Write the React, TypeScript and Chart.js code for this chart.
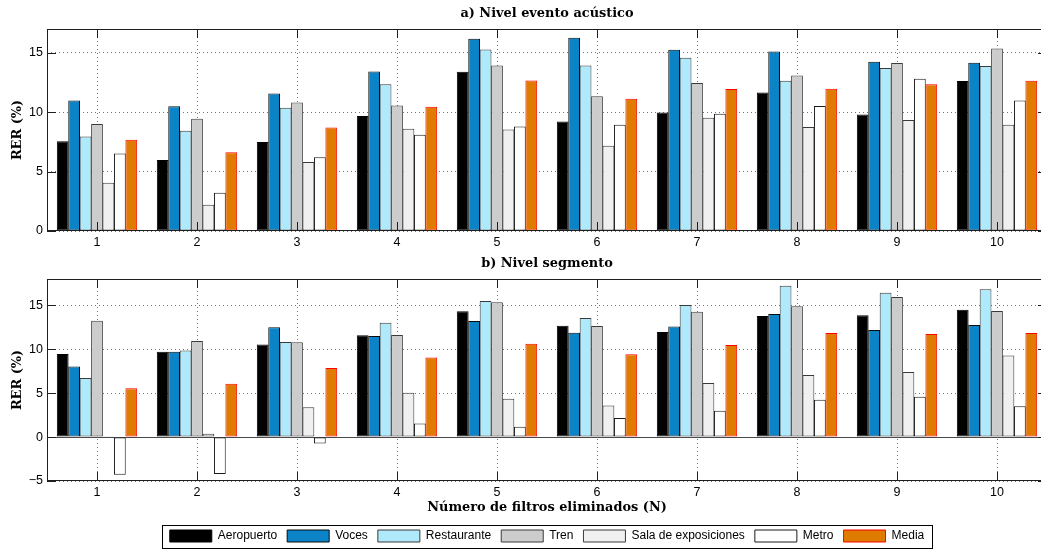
import { useEffect, useRef } from 'react';
import { Chart, registerables } from 'chart.js';

Chart.register(...registerables);

// ---------- data ----------
const categories = ['1', '2', '3', '4', '5', '6', '7', '8', '9', '10'];
const seriesNames = ['Aeropuerto', 'Voces', 'Restaurante', 'Tren', 'Sala de exposiciones', 'Metro', 'Media'];

// a) Nivel evento acústico
const eventoAeropuerto = [7.55, 5.97, 7.49, 9.67, 13.4, 9.22, 9.98, 11.66, 9.81, 12.62];
const eventoVoces = [10.99, 10.49, 11.58, 13.43, 16.18, 16.26, 15.25, 15.11, 14.24, 14.16];
const eventoRestaurante = [7.96, 8.44, 10.37, 12.36, 15.28, 13.93, 14.58, 12.64, 13.71, 13.88];
const eventoTren = [9.0, 9.45, 10.82, 10.57, 13.93, 11.35, 12.45, 13.09, 14.13, 15.36];
const eventoSala = [4.07, 2.21, 5.8, 8.6, 8.55, 7.18, 9.53, 8.75, 9.34, 8.94];
const eventoMetro = [6.53, 3.22, 6.2, 8.1, 8.8, 8.94, 9.87, 10.51, 12.81, 10.99];
const eventoMedia = [7.68, 6.62, 8.72, 10.46, 12.67, 11.13, 11.94, 11.97, 12.34, 12.64];

// b) Nivel segmento
const segmentoAeropuerto = [9.47, 9.73, 10.53, 11.59, 14.32, 12.69, 11.97, 13.79, 13.86, 14.5];
const segmentoVoces = [8.03, 9.73, 12.5, 11.52, 13.22, 11.89, 12.58, 14.02, 12.2, 12.77];
const segmentoRestaurante = [6.74, 9.85, 10.83, 13.03, 15.49, 13.56, 15.04, 17.23, 16.44, 16.82];
const segmentoTren = [13.26, 10.95, 10.8, 11.63, 15.34, 12.65, 14.28, 14.89, 15.95, 14.36];
const segmentoSala = [0.1, 0.38, 3.41, 5.04, 4.36, 3.6, 6.17, 7.08, 7.42, 9.28];
const segmentoMetro = [-4.28, -4.2, -0.72, 1.55, 1.17, 2.16, 2.99, 4.24, 4.58, 3.52];
const segmentoMedia = [5.57, 6.06, 7.88, 9.05, 10.64, 9.43, 10.49, 11.86, 11.74, 11.86];

const eventoTicks = [0, 5, 10, 15];
const segmentoTicks = [-5, 0, 5, 10, 15];
const eventoRange = [0, 17];
const segmentoRange = [-5, 18];

const titleEvento = 'a) Nivel evento acústico';
const titleSegmento = 'b) Nivel segmento';
const yTitle = 'RER (%)';
const xTitle = 'Número de filtros eliminados (N)';

// ---------- styles ----------
const fills = ['#000000', '#0b84c7', '#aeeafc', '#cccccc', '#f0f0f0', '#ffffff', '#df7b00'];
const edges = ['#000000', '#0a0a0a', '#3a3a3a', '#3a3a3a', '#3a3a3a', '#1a1a1a', '#ff0000'];

const SANS = "'Liberation Sans', Arial, Helvetica, sans-serif";
const SERIF = "'DejaVu Serif', serif";
const TITLE_SIZE = 12.9;
const CANVAS_W = 1060;
const PLOT_LEFT = 47;
const PLOT_RIGHT = 1047;
const TICK_LEN = 9;

const framePlugin = {
  id: 'matlabFrame',
  beforeDatasetsDraw(chart: any) {
    const { ctx, chartArea } = chart;
    const y = chart.scales.y;
    if (y.min < 0) {
      const py = Math.round(y.getPixelForValue(0)) + 0.5;
      ctx.save();
      ctx.strokeStyle = '#4a4a4a';
      ctx.lineWidth = 1;
      ctx.beginPath();
      ctx.moveTo(chartArea.left, py);
      ctx.lineTo(chartArea.right, py);
      ctx.stroke();
      ctx.restore();
    }
  },
  afterDatasetsDraw(chart: any) {
    const { ctx, chartArea } = chart;
    const { left, right, top, bottom } = chartArea;
    const x = chart.scales.x;
    const y = chart.scales.y;
    ctx.save();
    ctx.strokeStyle = '#1e1e1e';
    ctx.lineWidth = 1;
    ctx.strokeRect(left + 0.5, top + 0.5, right - left - 1, bottom - top - 1);
    ctx.beginPath();
    y.ticks.forEach((t: any) => {
      const py = Math.round(y.getPixelForValue(t.value)) + 0.5;
      ctx.moveTo(left, py);
      ctx.lineTo(left + TICK_LEN, py);
      ctx.moveTo(right, py);
      ctx.lineTo(right - TICK_LEN, py);
    });
    categories.forEach((_, i) => {
      const px = Math.round(x.getPixelForValue(i)) + 0.5;
      ctx.moveTo(px, bottom);
      ctx.lineTo(px, bottom - TICK_LEN);
      ctx.moveTo(px, top);
      ctx.lineTo(px, top + TICK_LEN);
    });
    ctx.stroke();
    ctx.restore();
  },
  afterDraw(chart: any) {
    const legend = chart.legend;
    if (!legend || !legend.options.display || !legend.legendHitBoxes?.length) return;
    const boxes = legend.legendHitBoxes;
    let minL = Infinity;
    let maxR = -Infinity;
    boxes.forEach((b: any) => {
      minL = Math.min(minL, b.left);
      maxR = Math.max(maxR, b.left + b.width);
    });
    const top = boxes[0].top;
    const ctx = chart.ctx;
    ctx.save();
    ctx.strokeStyle = '#000000';
    ctx.lineWidth = 1;
    ctx.strokeRect(Math.round(minL - 8) + 0.5, Math.round(top - 5) + 0.5, Math.round(maxR - minL + 16), 23);
    ctx.restore();
  },
};

function buildConfig(kind: 'evento' | 'segmento', height: number): any {
  const isEv = kind === 'evento';
  const series = isEv
    ? [eventoAeropuerto, eventoVoces, eventoRestaurante, eventoTren, eventoSala, eventoMetro, eventoMedia]
    : [segmentoAeropuerto, segmentoVoces, segmentoRestaurante, segmentoTren, segmentoSala, segmentoMetro, segmentoMedia];
  const tickVals = isEv ? eventoTicks : segmentoTicks;
  const range = isEv ? eventoRange : segmentoRange;
  const lh = TITLE_SIZE * 1.2;
  const titleTop = (isEv ? 13.5 : 8.5) - lh / 2;
  const titleBottom = (isEv ? 29 : 24) - lh - titleTop;
  const xHeight = isEv ? 24 : 39;
  return {
    type: 'bar',
    data: {
      labels: categories,
      datasets: series.map((vals, i) => ({
        label: seriesNames[i],
        data: vals,
        backgroundColor: fills[i],
        borderColor: edges[i],
        borderWidth: 1,
        borderSkipped: false,
        categoryPercentage: 0.8,
        barPercentage: 1.03,
      })),
    },
    options: {
      responsive: false,
      animation: false,
      devicePixelRatio: 1,
      layout: { padding: { left: 0, right: CANVAS_W - PLOT_RIGHT, top: 0, bottom: isEv ? 0 : height - 297 } },
      plugins: {
        tooltip: { enabled: false },
        title: {
          display: true,
          text: isEv ? titleEvento : titleSegmento,
          fullSize: false,
          color: '#000000',
          font: { family: SERIF, size: TITLE_SIZE, weight: 'bold', lineHeight: 1.2 },
          padding: { top: titleTop, bottom: titleBottom },
        },
        legend: {
          display: !isEv,
          position: 'bottom',
          fullSize: false,
          labels: {
            color: '#000000',
            font: { family: SANS, size: 12 },
            boxWidth: 42,
            boxHeight: 12,
            padding: 10,
          },
        },
      },
      scales: {
        x: {
          type: 'category',
          offset: true,
          grid: {
            offset: false,
            drawTicks: false,
            color: 'rgba(0,0,0,0.55)',
            lineWidth: 1,
          },
          border: { display: false, dash: [1, 3] },
          ticks: { color: '#000000', font: { family: SANS, size: 12.5 }, padding: 4, maxRotation: 0, autoSkip: false },
          title: {
            display: !isEv,
            text: xTitle,
            color: '#000000',
            font: { family: SERIF, size: TITLE_SIZE, weight: 'bold', lineHeight: 1.2 },
            padding: { top: 0, bottom: 265 - 226 - 253 + 226 - lh / 2 - 0 },
          },
          afterFit: (s: any) => {
            s.height = xHeight;
          },
        },
        y: {
          min: range[0],
          max: range[1],
          grid: { drawTicks: false, color: 'rgba(0,0,0,0.55)', lineWidth: 1 },
          border: { display: false, dash: [1, 3] },
          ticks: {
            color: '#000000',
            font: { family: SANS, size: 12.5 },
            padding: 4,
            callback: (v: any) => (Number(v) < 0 ? '\u2212' + String(Math.abs(Number(v))) : String(v)),
          },
          afterBuildTicks: (s: any) => {
            s.ticks = tickVals.map((v) => ({ value: v }));
          },
          title: {
            display: true,
            text: yTitle,
            color: '#000000',
            font: { family: SERIF, size: TITLE_SIZE, weight: 'bold', lineHeight: 1.2 },
            padding: { top: 18 - lh / 2, bottom: 0 },
          },
          afterFit: (s: any) => {
            s.width = PLOT_LEFT;
          },
        },
      },
    },
    plugins: [framePlugin],
  };
}

function BarPanel({ kind, top, height }: { kind: 'evento' | 'segmento'; top: number; height: number }) {
  const ref = useRef<HTMLCanvasElement | null>(null);
  useEffect(() => {
    if (!ref.current) return;
    const chart = new Chart(ref.current, buildConfig(kind, height));
    return () => chart.destroy();
  }, [kind, height]);
  return (
    <canvas
      ref={ref}
      width={CANVAS_W}
      height={height}
      style={{ position: 'absolute', left: 0, top, width: CANVAS_W, height, display: 'block' }}
    />
  );
}

export default function App() {
  return (
    <div
      style={{
        position: 'fixed',
        left: 0,
        top: 0,
        width: 1041,
        height: 549,
        overflow: 'hidden',
        background: '#ffffff',
      }}
    >
      <BarPanel kind="evento" top={0} height={255} />
      <BarPanel kind="segmento" top={255} height={300} />
    </div>
  );
}
